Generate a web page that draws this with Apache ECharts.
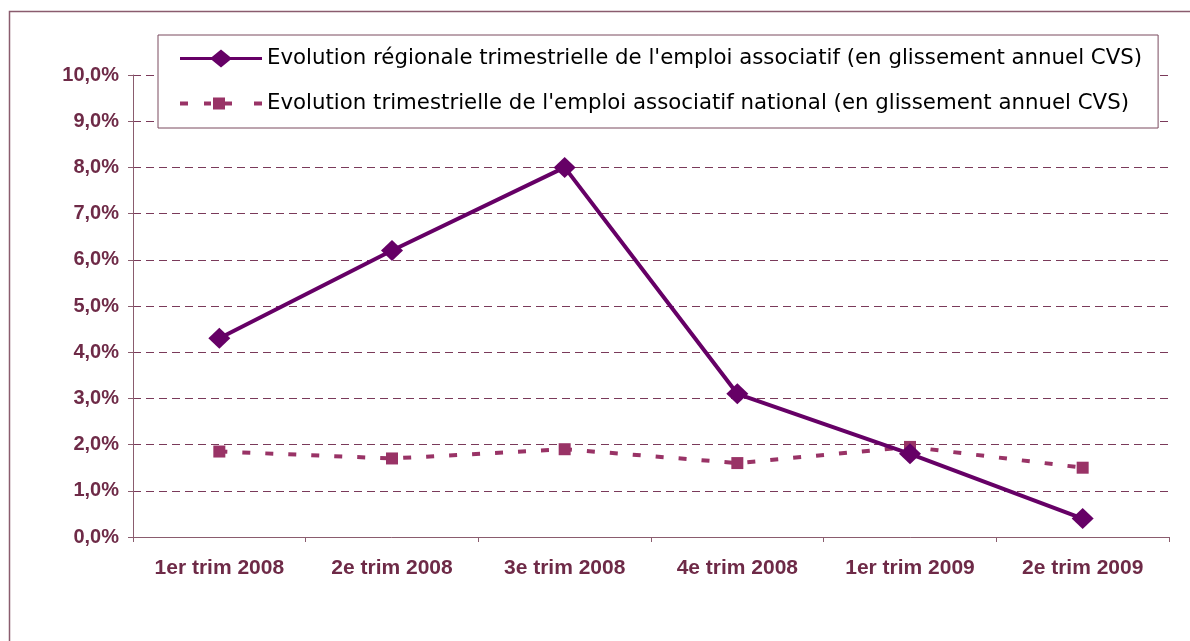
<!DOCTYPE html>
<html><head><meta charset="utf-8">
<script src="https://cdn.jsdelivr.net/npm/echarts@6/dist/echarts.min.js"></script>
<style>html,body{margin:0;padding:0;background:#fff}#c{width:1190px;height:641px}</style>
</head><body><div id="c"></div>
<script>
const categories = ['1er trim 2008','2e trim 2008','3e trim 2008','4e trim 2008','1er trim 2009','2e trim 2009'];
const regional = [4.3, 6.2, 8.0, 3.1, 1.8, 0.4];
const national = [1.85, 1.7, 1.9, 1.6, 1.95, 1.5];
const seriesNames = [
  "Evolution régionale trimestrielle de l'emploi associatif (en glissement annuel CVS)",
  "Evolution trimestrielle de l'emploi associatif national (en glissement annuel CVS)"
];
const yMin = 0, yMax = 10, yStep = 1;

// legend icons (line + marker), 82 px wide
const iconRegional = 'path://M0 7.5L82 7.5L82 10.5L0 10.5Z M41 0L52 9L41 18L30 9Z';
const iconNational = 'path://M0 4L8 4L8 8L0 8Z M24 4L31 4L31 8L24 8Z M33 0L45 0L45 12L33 12Z M45 4L52 4L52 8L45 8Z M74 4L82 4L82 8L74 8Z';

const labelColor = '#6E2A47';
const chart = echarts.init(document.getElementById('c'), null, {renderer:'canvas'});
chart.setOption({
  animation: false,
  backgroundColor: '#fff',
  graphic: [{
    type: 'rect', left: 7, top: 9, z: -1,
    shape: {width: 1300, height: 800},
    style: {fill: 'none', stroke: '#8A5C6E', lineWidth: 1.5}
  }],
  legend: {
    orient: 'vertical', left: 158, top: 35,
    padding: [13, 16, 14, 22], itemGap: 24,
    itemWidth: 82, itemHeight: 21, symbolKeepAspect: true,
    borderColor: '#7A4A5E', borderWidth: 1,
    backgroundColor: '#fff',
    itemStyle: {borderWidth: 0},
    textStyle: {fontFamily: 'DejaVu Sans', fontSize: 21.3, color: '#000'},
    data: [{name: seriesNames[0], icon: iconRegional}, {name: seriesNames[1], icon: iconNational}]
  },
  grid: {left: 133, right: 21, top: 75, bottom: 104, containLabel: false},
  xAxis: {
    type: 'category', data: categories, boundaryGap: true,
    axisLine: {lineStyle: {color: '#8A5C6E', width: 1}},
    axisTick: {show: true, length: 5, lineStyle: {color: '#8A5C6E'}},
    axisLabel: {margin: 21, fontFamily: 'Liberation Sans, Arial', fontWeight: 'bold', fontSize: 21, color: labelColor}
  },
  yAxis: {
    type: 'value', min: yMin, max: yMax, interval: yStep,
    axisLine: {show: true, lineStyle: {color: '#8A5C6E', width: 1}},
    axisTick: {show: true, length: 5, lineStyle: {color: '#8A5C6E'}},
    axisLabel: {margin: 14, fontFamily: 'Liberation Sans, Arial', fontWeight: 'bold', fontSize: 20, color: labelColor,
      formatter: v => v.toFixed(1).replace('.', ',') + '%'},
    splitLine: {show: true, lineStyle: {color: '#7A3A5A', type: [8, 5], width: 1}}
  },
  series: [{
    name: seriesNames[0], type: 'line', data: regional,
    symbol: 'diamond', symbolSize: [22, 21],
    lineStyle: {color: '#660066', width: 4},
    itemStyle: {color: '#660066'}, z: 3
  }, {
    name: seriesNames[1], type: 'line', data: national,
    symbol: 'rect', symbolSize: 12,
    lineStyle: {color: '#993366', width: 4, type: [8, 15]},
    itemStyle: {color: '#993366'}, z: 2
  }]
});
</script></body></html>
